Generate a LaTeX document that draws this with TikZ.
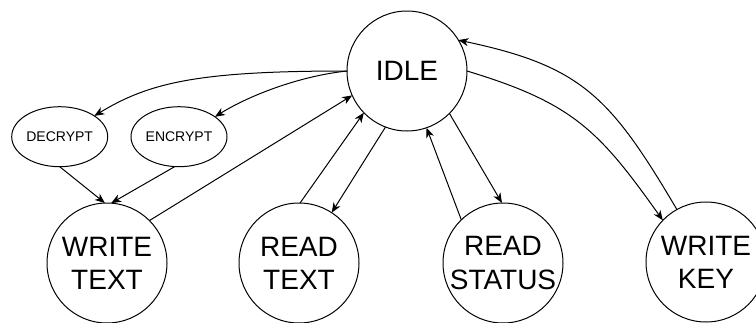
\documentclass[tikz,border=0pt]{standalone}
\usepackage{fontspec}
\setmainfont{Liberation Sans}
\usetikzlibrary{shapes.geometric,arrows.meta}
\begin{document}
\begin{tikzpicture}[x=1pt,y=-1pt,
  state/.style={circle,draw,line width=1pt,minimum size=120pt,inner sep=0pt,
    outer sep=0pt,align=center,font=\fontsize{28}{33}\selectfont},
  sub/.style={ellipse,draw,line width=1pt,minimum width=96pt,minimum height=60pt,
    inner sep=0pt,outer sep=0pt,font=\fontsize{14}{16}\selectfont},
  edge/.style={line width=1pt,-{Stealth[length=10pt,width=8pt,inset=3pt]}}]
\useasboundingbox (0,0) rectangle (756,322);
\clip (0,0) rectangle (756,322);

% states
\node[state] (idle) at (407,71) {IDLE};
\node[state] (wt) at (107,263) {WRITE\\TEXT};
\node[state] (rt) at (299,263) {READ\\TEXT};
\node[state] (rs) at (503,263) {READ\\STATUS};
\node[state] (wk) at (706,262) {WRITE\\KEY};

% helper states for the write path
\node[sub] (dec) at (59.7,136.7) {DECRYPT};
\node[sub] (enc) at (179,136.7) {ENCRYPT};

% transitions
\draw[edge] (idle.west) .. controls (200,71) and (150,82) .. (dec.31);
\draw[edge] (idle.west) .. controls (300,76) and (250,95) .. (enc.29);
\draw[edge] (dec.south) -- (wt.92);
\draw[edge] (enc.262) -- (wt.86);
\draw[edge] (wt.45) -- (idle.204);
\draw[edge] (rt.89) -- (idle.224);
\draw[edge] (idle.249) -- (rt.57);
\draw[edge] (rs.134) -- (idle.289);
\draw[edge] (idle.315) -- (rs.91);
\draw[edge] (idle.east) .. controls (573,103) and (599,130.5) .. (wk.136);
\draw[edge] (wk.119) .. controls (610,96) and (581,66) .. (idle.31);
\end{tikzpicture}
\end{document}
